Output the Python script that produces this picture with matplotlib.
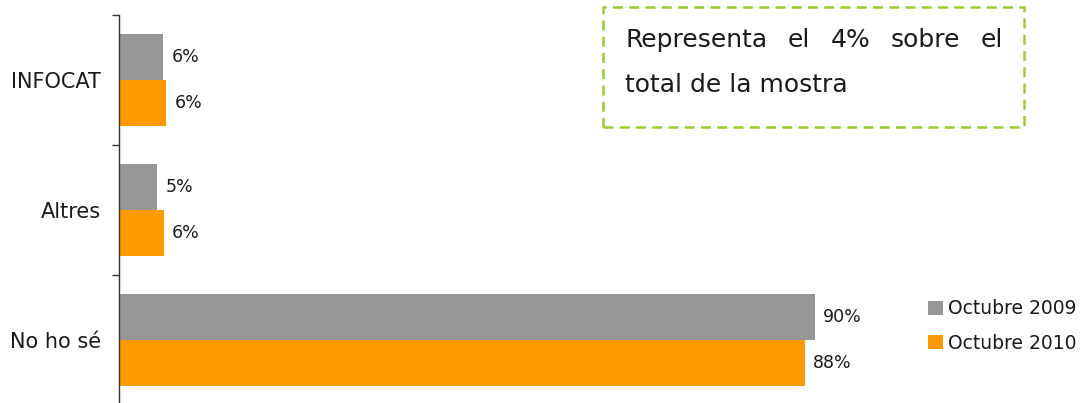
import matplotlib.pyplot as plt
from matplotlib.patches import Rectangle

plt.rcParams['font.family'] = ['DejaVu Sans']

# data
categories = ['INFOCAT', 'Altres', 'No ho sé']
oct_2009 = [5.7, 4.9, 90.0]
oct_2010 = [6.1, 5.8, 88.7]
labels_2009 = ['6%', '5%', '90%']
labels_2010 = ['6%', '6%', '88%']
series_names = ['Octubre 2009', 'Octubre 2010']
note_line1 = ['Representa', 'el', '4%', 'sobre', 'el']
note_line2 = 'total de la mostra'

gray = '#969696'
orange = '#FF9900'

W, H = 1088, 403
fig = plt.figure(figsize=(W / 100, H / 100), dpi=100)
ax = fig.add_axes([119 / W, 1 - 405 / H, 1 - 119 / W, 390 / H])

h = 0.354
ys = list(range(len(categories)))
b1 = ax.barh([y - h / 2 for y in ys], oct_2009, height=h, color=gray, label=series_names[0])
b2 = ax.barh([y + h / 2 for y in ys], oct_2010, height=h, color=orange, label=series_names[1])

for bars, labs in ((b1, labels_2009), (b2, labels_2010)):
    for bar, lab in zip(bars, labs):
        ax.annotate(lab, (bar.get_width(), bar.get_y() + bar.get_height() / 2),
                    xytext=(6, 0), textcoords='offset points',
                    ha='left', va='center', fontsize=12.5, color='#1a1a1a')

ax.set_xlim(0, 969 / 7.73)
ax.set_ylim(len(categories) - 0.5, -0.5)
ax.set_yticks(ys)
ax.set_yticklabels(categories, fontsize=15, color='#1a1a1a')
ax.set_yticks([y - 0.5 for y in range(len(categories) + 1)], minor=True)
ax.tick_params(axis='y', which='major', length=0, pad=13)
ax.tick_params(axis='y', which='minor', length=5, width=1, color='#333333')
ax.set_xticks([])
for side in ('top', 'right', 'bottom'):
    ax.spines[side].set_visible(False)
ax.spines['left'].set_color('#333333')
ax.spines['left'].set_linewidth(1)

fig.legend(handles=[b1, b2], loc='upper left', bbox_to_anchor=(919 / W, 1 - 290 / H),
           frameon=False, fontsize=13.5, handlelength=0.8, handleheight=0.8,
           handletextpad=0.25, labelspacing=0.82, borderpad=0, labelcolor='#1a1a1a')

# dashed note box
fig.patches.append(Rectangle((603 / W, 1 - 127 / H), 421 / W, 120 / H,
                             transform=fig.transFigure, fill=False,
                             edgecolor='#99CC33', linewidth=1.8,
                             linestyle=(0, (4, 2.5))))

# justified first line
left, right = 625, 1003
fig.canvas.draw()
rend = fig.canvas.get_renderer()
words = [fig.text(0, 1 - 40 / H, w, fontsize=18, va='center', ha='left', color='#1a1a1a')
         for w in note_line1]
widths = [t.get_window_extent(rend).width for t in words]
gap = (right - left - sum(widths)) / (len(words) - 1)
x = left
for t, w in zip(words, widths):
    t.set_x(x / W)
    x += w + gap
fig.text(left / W, 1 - 85 / H, note_line2, fontsize=18, va='center', ha='left', color='#1a1a1a')

fig.savefig('out.png', dpi=100)
